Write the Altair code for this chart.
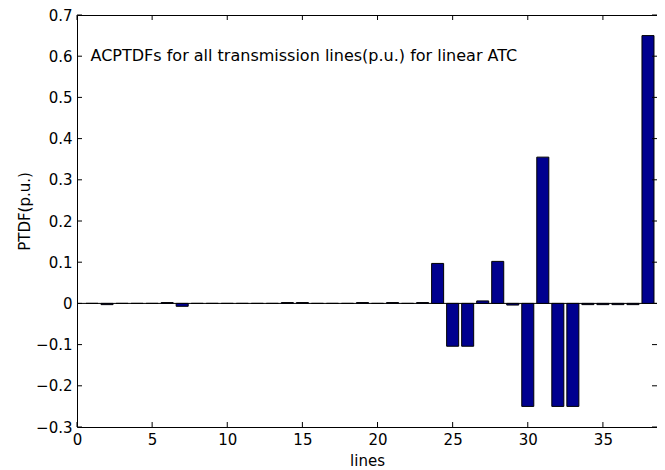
import altair as alt
import pandas as pd

lines = list(range(1, 39))
ptdf = [0.000, -0.003, 0.000, 0.000, 0.000, 0.002, -0.007, 0.000, 0.000, 0.000,
        0.000, 0.000, 0.000, 0.002, 0.002, 0.000, 0.000, 0.000, 0.002, 0.000,
        0.002, 0.000, 0.002, 0.097, -0.104, -0.104, 0.006, 0.102, -0.004, -0.250,
        0.355, -0.250, -0.250, -0.003, -0.003, -0.003, -0.003, 0.650]
x_ticks = [0, 5, 10, 15, 20, 25, 30, 35]
y_ticks = [-0.3, -0.2, -0.1, 0.0, 0.1, 0.2, 0.3, 0.4, 0.5, 0.6, 0.7]
note_text = ["ACPTDFs for all transmission lines(p.u.) for linear ATC"]
note_x = [0.9]
note_y = [0.6]

W, H = 580, 412
FONT = "DejaVu Sans"
FS = 15
BAR = "#00008F"

df = pd.DataFrame({"line": lines, "ptdf": ptdf})
xt = pd.DataFrame({"t": x_ticks})
yt = pd.DataFrame({"t": y_ticks})
note = pd.DataFrame({"text": note_text, "x": note_x, "y": note_y})

xscale = alt.Scale(domain=[0, 38.6], nice=False, zero=False)
yscale = alt.Scale(domain=[-0.3, 0.7], nice=False, zero=False)

xaxis = alt.Axis(values=x_ticks, title="lines", grid=False, domain=False, tickSize=0,
                 labelPadding=5, labelFont=FONT, labelFontSize=FS, labelColor="black",
                 titleFont=FONT, titleFontSize=FS, titleFontWeight="normal", titleColor="black",
                 titleY=33, titleBaseline="middle", labelFlush=False)
yaxis = alt.Axis(values=y_ticks, title="PTDF(p.u.)", grid=False, domain=False, tickSize=0,
                 labelPadding=5, labelFont=FONT, labelFontSize=FS, labelColor="black",
                 labelExpr="abs(datum.value) < 1e-9 ? '0' : format(datum.value, '.1f')",
                 titleFont=FONT, titleFontSize=FS, titleFontWeight="normal", titleColor="black",
                 titleX=-53, titleY=196, titleAngle=270, titleBaseline="middle", titleAlign="center",
                 labelFlush=False)

bars = alt.Chart(df).transform_calculate(
    x0="datum.line - 0.4", x1="datum.line + 0.4", zero="0"
).mark_bar(color=BAR, stroke="black", strokeWidth=1).encode(
    x=alt.X("x0:Q", scale=xscale, axis=xaxis),
    x2="x1:Q",
    y=alt.Y("ptdf:Q", scale=yscale, axis=yaxis),
    y2="zero:Q",
)

baseline = alt.Chart(yt).transform_filter("abs(datum.t) < 1e-9").mark_rule(
    color="black", strokeWidth=1
).encode(y=alt.Y("t:Q", scale=yscale), x=alt.value(0), x2=alt.value(W))

tb = alt.Chart(xt).mark_rule(color="black", strokeWidth=1).encode(
    x=alt.X("t:Q", scale=xscale), y=alt.value(H), y2=alt.value(H - 5))
tt = alt.Chart(xt).mark_rule(color="black", strokeWidth=1).encode(
    x=alt.X("t:Q", scale=xscale), y=alt.value(0), y2=alt.value(5))
tl = alt.Chart(yt).mark_rule(color="black", strokeWidth=1).encode(
    y=alt.Y("t:Q", scale=yscale), x=alt.value(0), x2=alt.value(5))
tr = alt.Chart(yt).mark_rule(color="black", strokeWidth=1).encode(
    y=alt.Y("t:Q", scale=yscale), x=alt.value(W - 5), x2=alt.value(W))

txt = alt.Chart(note).mark_text(align="left", baseline="middle", font=FONT, fontSize=16,
                                color="black").encode(
    x=alt.X("x:Q", scale=xscale), y=alt.Y("y:Q", scale=yscale), text="text:N")

chart = alt.layer(baseline, bars, tb, tt, tl, tr, txt).properties(
    width=W, height=H,
    autosize=alt.AutoSizeParams(type="none"),
    padding={"left": 69, "top": 7, "right": 0, "bottom": 44},
    background="white",
).configure_view(stroke="black", strokeWidth=1)

chart.save("out.html", embed_options={"renderer": "svg", "actions": False})
